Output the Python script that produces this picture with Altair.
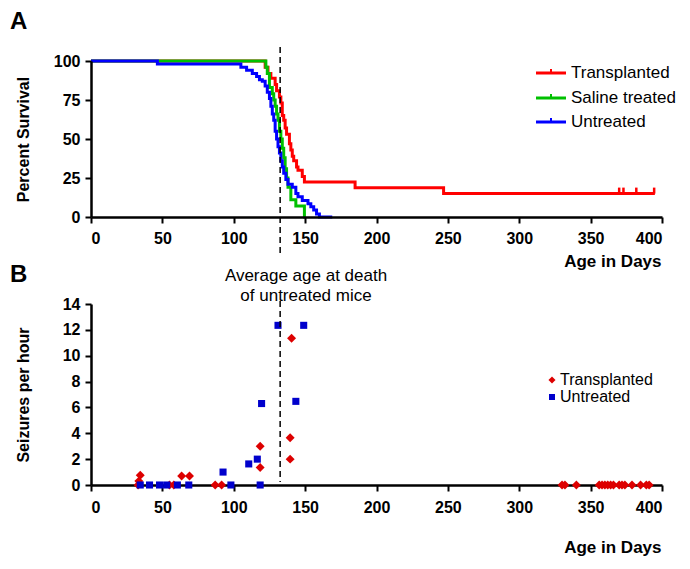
import altair as alt
import pandas as pd

FONT = "Liberation Sans"

# ---------------- Panel A: survival curves ----------------
groups = ["Transplanted", "Saline treated", "Untreated"]
line_colors = ["#ff0000", "#00c000", "#0000ff"]

transplanted_days = [0, 122, 124, 126, 129, 130, 132, 133, 134, 135, 136, 137, 139, 140, 141, 142, 144, 145, 148, 149.5, 185, 247, 395]
transplanted_surv = [100, 96, 92, 89, 85, 81, 77, 73, 65, 62, 57, 53, 47, 43, 39, 36, 32, 30, 26, 22.5, 18.75, 15, 15]

saline_days = [0, 122.5, 123.5, 125, 127, 128, 129, 130, 131, 132, 133, 134, 135, 136, 137, 138, 140, 143.5, 149.5, 150]
saline_surv = [100, 96, 92, 83, 79, 75, 71, 66, 62, 55, 50, 44, 38, 31, 25, 19, 11, 7, 0, 0]

untreated_days = [0, 46.5, 105, 109, 113, 116, 118, 120, 122, 123.5, 125, 126, 127, 128, 129, 130, 131, 132, 133, 134, 135, 136.5, 138, 141, 143.5, 145, 148, 152, 154, 156, 158, 160, 169]
untreated_surv = [100, 98, 96, 94, 92, 90, 88, 87, 84, 80, 76, 71, 66, 62, 55, 50, 45, 41, 36, 32, 28, 24, 21, 19, 15, 13, 10.5, 8.5, 6.5, 4.5, 2, 0, 0]

censor_days = [370, 373, 382, 394.5]
censor_surv = [15, 15, 15, 15]

avg_death_day = [132.5]
annotation_lines = ["Average age at death", "of untreated mice"]

# ---------------- Panel B: seizures ----------------
point_groups = ["Transplanted", "Untreated"]
point_colors = ["#dd0000", "#0000cc"]
point_shapes = ["diamond", "square"]

seiz_tx_days = [33, 33.5, 34.5, 55, 58, 63.5, 69, 87, 91.5, 118.5, 118.5, 139.5, 139.5, 140.5,
                330, 332, 340, 356, 358, 360, 362, 364, 366, 370, 372, 374, 379, 385, 389, 391]
seiz_tx_vals = [0, 0.3, 0.75, 0, 0, 0.7, 0.7, 0, 0, 1.35, 3.0, 2.0, 3.65, 11.35,
                0, 0, 0, 0, 0, 0, 0, 0, 0, 0, 0, 0, 0, 0, 0, 0]

seiz_un_days = [34.5, 41, 48, 53, 60.5, 68.5, 92.5, 98, 110.5, 116.5, 118.5, 119.5, 131, 143.5, 149]
seiz_un_vals = [0, 0, 0, 0, 0, 0, 1.0, 0, 1.63, 2.0, 0, 6.3, 12.35, 6.47, 12.35]

x_ticks = [0, 50, 100, 150, 200, 250, 300, 350, 400]
surv_ticks = [0, 25, 50, 75, 100]
seiz_ticks = [0, 2, 4, 6, 8, 10, 12, 14]

W = 571
HA = 156
HB = 181


def axis(values, title, **kw):
    base = dict(values=values, title=title, grid=False, labelOverlap=False,
                domainColor="black", domainWidth=2.5,
                tickColor="black", tickWidth=2, tickSize=6,
                labelFont=FONT, labelFontSize=16, labelFontWeight="bold", labelColor="black",
                titleFont=FONT, titleFontSize=16, titleFontWeight="bold", titleColor="black")
    base.update(kw)
    return alt.Axis(**base)


def one_row():
    return alt.Chart(pd.DataFrame({"k": [0]}))


x_axis_a = axis(x_ticks, "Age in Days", labelPadding=7, titleX=W - 1, titleY=44, titleFontSize=17,
                titleAlign="right", titleBaseline="middle", titleAnchor="end", zindex=1)
y_axis_a = axis(surv_ticks, "Percent Survival", labelPadding=5, titleX=-68,
                titleBaseline="middle", titleAngle=270, zindex=1)

xs_a = alt.Scale(domain=[0, 400], nice=False)
ys_a = alt.Scale(domain=[0, 100], nice=False)


def xa():
    return alt.X("day:Q", scale=xs_a, axis=x_axis_a)


def ya():
    return alt.Y("surv:Q", scale=ys_a, axis=y_axis_a)


series = [(transplanted_days, transplanted_surv), (saline_days, saline_surv), (untreated_days, untreated_surv)]
a_layers = []
for (d, s), g, c in zip(series, groups, line_colors):
    df = pd.DataFrame({"day": d, "surv": s, "group": g})
    a_layers.append(alt.Chart(df).mark_line(interpolate="step-after", strokeWidth=3, color=c)
                    .encode(x=xa(), y=ya()))

censor_df = pd.DataFrame({"day": censor_days, "surv": censor_surv})
a_layers.append(
    alt.Chart(censor_df).mark_point(shape="M0,0L0,-1", size=144, filled=False, strokeWidth=2.5,
                                    color=line_colors[0], opacity=1)
    .encode(x=xa(), y=ya())
)

a_layers.append(
    alt.Chart(pd.DataFrame({"day": avg_death_day})).mark_rule(strokeDash=[6, 4], strokeWidth=1.5, color="black")
    .encode(x=xa(), y=alt.value(-14), y2=alt.value(196))
)

a_layers.append(
    one_row().mark_text(text=annotation_lines, font=FONT, fontSize=17, color="black", align="center",
                        baseline="alphabetic", lineHeight=20)
    .encode(x=alt.value(215), y=alt.value(220))
)

legend_y_a = [12, 37, 61]
for g, c, yy in zip(groups, line_colors, legend_y_a):
    a_layers.append(one_row().mark_rule(strokeWidth=3, color=c)
                    .encode(x=alt.value(445), x2=alt.value(475), y=alt.value(yy)))
    a_layers.append(one_row().mark_rule(strokeWidth=2, color=c)
                    .encode(x=alt.value(460), y=alt.value(yy - 4), y2=alt.value(yy)))
    a_layers.append(one_row().mark_text(text=g, font=FONT, fontSize=17, color="black", align="left",
                                        baseline="middle")
                    .encode(x=alt.value(480), y=alt.value(yy)))

a_layers.append(one_row().mark_text(text="A", font=FONT, fontSize=24, fontWeight="bold", color="black",
                                    align="left", baseline="alphabetic")
                .encode(x=alt.value(-81), y=alt.value(-32)))

panel_a = alt.layer(*a_layers).properties(width=W, height=HA)

# ---------------- Panel B ----------------
x_axis_b = axis(x_ticks, "Age in Days", labelPadding=8, titleX=W - 1, titleY=62, titleFontSize=17,
                titleAlign="right", titleBaseline="middle", titleAnchor="end")
y_axis_b = axis(seiz_ticks, "Seizures per hour", labelPadding=5, titleX=-68,
                titleBaseline="middle", titleAngle=270)
xs_b = alt.Scale(domain=[0, 400], nice=False)
ys_b = alt.Scale(domain=[0, 14], nice=False)


def xb():
    return alt.X("day:Q", scale=xs_b, axis=x_axis_b)


def yb():
    return alt.Y("rate:Q", scale=ys_b, axis=y_axis_b)


b_layers = []
pts = [(seiz_tx_days, seiz_tx_vals), (seiz_un_days, seiz_un_vals)]
sizes = [80, 50]
for (d, v), g, c, sh, sz in zip(pts, point_groups, point_colors, point_shapes, sizes):
    df = pd.DataFrame({"day": d, "rate": v, "group": g})
    b_layers.append(
        alt.Chart(df).mark_point(shape=sh, filled=True, size=sz, color=c, opacity=1)
        .encode(x=xb(), y=yb())
    )

b_layers.append(
    alt.Chart(pd.DataFrame({"day": avg_death_day})).mark_rule(strokeDash=[6, 4], strokeWidth=1.5, color="black")
    .encode(x=xb(), y=alt.value(-3), y2=alt.value(178))
)

legend_y_b = [76, 93]
legend_sizes_b = [50, 36]
for g, c, sh, yy, sz in zip(point_groups, point_colors, point_shapes, legend_y_b, legend_sizes_b):
    b_layers.append(one_row().mark_point(shape=sh, filled=True, size=sz, color=c, opacity=1)
                    .encode(x=alt.value(461), y=alt.value(yy)))
    b_layers.append(one_row().mark_text(text=g, font=FONT, fontSize=16, color="black", align="left",
                                        baseline="middle")
                    .encode(x=alt.value(469), y=alt.value(yy)))

b_layers.append(one_row().mark_text(text="B", font=FONT, fontSize=24, fontWeight="bold", color="black",
                                    align="left", baseline="alphabetic")
                .encode(x=alt.value(-81), y=alt.value(-22)))

panel_b = alt.layer(*b_layers).properties(width=W, height=HB)

chart = alt.vconcat(panel_a, panel_b, spacing=87, bounds="flush").properties(
    padding={"left": 2, "top": 2, "right": 5, "bottom": 5},
    background="white",
).configure_view(stroke=None)

chart.save("out.html", embed_options={"renderer": "svg", "actions": False})
